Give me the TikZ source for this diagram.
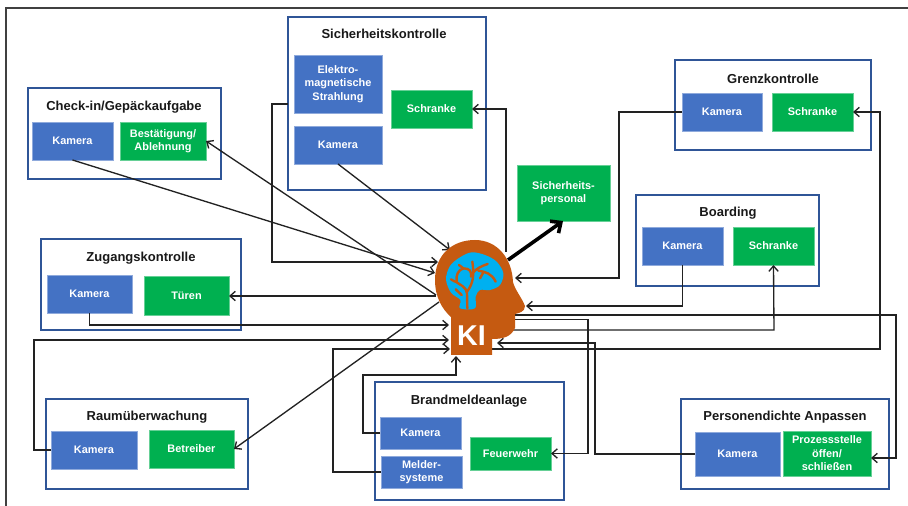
\documentclass[tikz,border=0pt]{standalone}
\usepackage{fontspec}
\setmainfont{Liberation Sans}
\usetikzlibrary{arrows.meta,calc}
\definecolor{cblue}{HTML}{4472C4}
\definecolor{cgreen}{HTML}{00B050}
\definecolor{cframe}{HTML}{2F5597}
\definecolor{corange}{HTML}{C55A11}
\definecolor{ccyan}{HTML}{00B0F0}
\definecolor{cline}{HTML}{222222}
\tikzset{
  boxbase/.style={rectangle,inner sep=0pt,outer sep=0pt,align=center,text=white,
     font=\bfseries\fontsize{8.2}{10.1}\selectfont},
  bluebox/.style={boxbase,fill=cblue,draw=cblue!60!white,line width=.3pt},
  greenbox/.style={boxbase,fill=cgreen,draw=cgreen!60!white,line width=.3pt},
  groupbox/.style={rectangle,inner sep=0pt,outer sep=0pt,fill=white,draw=cframe,line width=1.9pt},
  grouptitle/.style={inner sep=0pt,text=black!90,font=\bfseries\fontsize{9.75}{11}\selectfont},
  conn/.style={draw=cline,line width=1pt},
  arr/.style={conn,-{Straight Barb[length=4pt,width=7pt,line width=1pt]}},
  bigarr/.style={draw=black,line width=2.7pt,-{Straight Barb[length=6pt,width=11pt]}}
}
\newcommand{\bx}[7]{\node[#1,minimum width={(#5-#3)*0.75pt},minimum height={(#6-#4)*0.75pt}] (#2) at ({(#3+#5)/2},{(#4+#6)/2}) {#7};}
\begin{document}
\begin{tikzpicture}[x=.75pt,y=-.75pt]
\useasboundingbox (0,0) rectangle (908,506);
\coordinate (fa) at (6,506); \coordinate (fb) at (6,8); \coordinate (fc) at (908,8);
\draw[black!75,line width=1pt] (fa) -- (fb) -- (fc);
% group frames
\bx{groupbox}{gsich}{288}{17}{486}{190}{}
\bx{groupbox}{ggrenz}{675}{60}{871}{150}{}
\bx{groupbox}{gcheck}{28}{88}{221}{179}{}
\bx{groupbox}{gzug}{41}{239}{241}{330}{}
\bx{groupbox}{graum}{46}{399}{248}{489}{}
\bx{groupbox}{gbrand}{375}{382}{564}{500}{}
\bx{groupbox}{gpers}{681}{399}{889}{489}{}
\bx{groupbox}{gboard}{636}{195}{819}{286}{}
% titles
\node[grouptitle] (tsich) at (384,34) {Sicherheitskontrolle};
\node[grouptitle] (tgrenz) at (773,79) {Grenzkontrolle};
\node[grouptitle] (tcheck) at (124,107) {Check-in/Gepäckaufgabe};
\node[grouptitle] (tzug) at (141,258) {Zugangskontrolle};
\node[grouptitle] (traum) at (147,417) {Raumüberwachung};
\node[grouptitle] (tbrand) at (469,401) {Brandmeldeanlage};
\node[grouptitle] (tpers) at (785,417) {Personendichte Anpassen};
\node[grouptitle] (tboard) at (728,213) {Boarding};
% inner boxes
\bx{bluebox}{elek}{294}{55}{382}{113}{Elektro-\\magnetische\\Strahlung}
\bx{bluebox}{skam}{294}{126}{382}{164}{Kamera}
\bx{greenbox}{ssch}{391}{90}{472}{128}{Schranke}
\bx{bluebox}{gkam}{682}{93}{762}{131}{Kamera}
\bx{greenbox}{gsch}{772}{93}{853}{131}{Schranke}
\bx{bluebox}{ckam}{32}{122}{113}{160}{Kamera}
\bx{greenbox}{cbest}{120}{122}{206}{160}{Bestätigung/\\Ablehnung}
\bx{bluebox}{zkam}{47}{275}{132}{313}{Kamera}
\bx{greenbox}{ztuer}{144}{276}{229}{315}{Türen}
\bx{bluebox}{rkam}{51}{431}{137}{469}{Kamera}
\bx{greenbox}{rbet}{149}{430}{234}{468}{Betreiber}
\bx{bluebox}{bkam}{380}{417}{461}{449}{Kamera}
\bx{bluebox}{bmel}{381}{456}{462}{488}{Melder-\\systeme}
\bx{greenbox}{bfeu}{470}{437}{551}{470}{Feuerwehr}
\bx{bluebox}{pkam}{695}{432}{780}{476}{Kamera}
\bx{greenbox}{pproz}{783}{431}{871}{476}{Prozessstelle\\öffen/\\schließen}
\bx{bluebox}{bokam}{642}{227}{723}{265}{Kamera}
\bx{greenbox}{bosch}{733}{227}{814}{265}{Schranke}
\bx{greenbox}{pers}{517}{165}{610}{221}{Sicherheits-\\personal}
% ports
\coordinate (elekout) at (288,104);
\coordinate (h1) at (450,250);
\coordinate (h2) at (438,262);
\coordinate (h3) at (435,273);
\coordinate (h4) at (436,295);
\coordinate (h5) at (436,296);
\coordinate (h6) at (439,302);
\coordinate (h7) at (449,325);
\coordinate (h8) at (449,340);
\coordinate (h9) at (450,349);
\coordinate (h10) at (456,356);
\coordinate (h11) at (506,252);
\coordinate (h12) at (508,260);
\coordinate (h13) at (515,278);
\coordinate (h14) at (526,306);
\coordinate (h15) at (513,315);
\coordinate (h16) at (513,319.5);
\coordinate (h17) at (511,330);
\coordinate (h18) at (497,343);
\coordinate (h19) at (492,349);
\coordinate (persin) at (563,221);
% connectors
\draw[arr] (skam.south) -- (h1);
\draw[arr] (elekout) -- (272,104) -- (272,262) -- (h2);
\draw[arr] (ckam.south) -- (h3);
\draw[arr] (h4) -- (cbest.east);
\draw[arr] (h5) -- (ztuer.east|-h5);
\draw[arr] (h6) -- (rbet.east);
\draw[arr] (zkam.south) -- (89.5,325) -- (h7);
\draw[arr] (rkam.west) -- (34,450) -- (34,340) -- (h8);
\draw[arr] (bmel.west) -- (333,472) -- (333,349) -- (h9);
\draw[arr] (bkam.west) -- (363,433) -- (363,375) -- (456,375) -- (h10);
\draw[arr] (h11) -- (506,109) -- (ssch.east);
\draw[bigarr] (h12) -- (persin);
\draw[arr] (gkam.west) -- (619,112) -- (619,278) -- (h13);
\draw[arr] (bokam.south) -- (682.5,306) -- (h14);
\draw[arr] (h15) -- (896,315) -- (896,458) -- (pproz.east|-0,458);
\draw[arr] (h16) -- (588,319.5) -- (588,453.5) -- (bfeu.east);
\draw[arr] (h17) -- (774,330) -- (bosch.south);
\draw[arr] (pkam.west) -- (595,454) -- (595,343) -- (h18);
\draw[arr] (h19) -- (880,349) -- (880,112) -- (gsch.east);
% head
\fill[corange] (451,355) -- (492,355) -- (492,339)
  .. controls (503,339) and (511,337) .. (515,328)
  -- (515,314)
  .. controls (519,313) and (525,312) .. (525,306)
  .. controls (522,298) and (515,290) .. (513,282)
  .. controls (512,258) and (497,240) .. (475,240)
  .. controls (452,240) and (435,255) .. (435,280)
  .. controls (435,297) and (442,309) .. (451,317)
  -- cycle;
% brain
\fill[ccyan,x=.25pt,y=-.25pt,shift={(326.25pt,-180pt)}]
  plot[smooth cycle,tension=.55] coordinates {(75,205) (76,180) (48,158) (33,118) (45,78) (75,52) (110,37) (150,45) (185,65) (205,100) (195,135) (165,150) (135,150) (122,170) (120,205)};
\begin{scope}[x=.25pt,y=-.25pt,shift={(326.25pt,-180pt)},draw=corange,line width=1.8pt,line cap=round]
  \draw (97,205) -- (96,160) .. controls (94,140) and (75,135) .. (62,125) (60,125) -- (48,118);
  \draw (80,165) -- (62,148);
  \draw (96,155) .. controls (115,130) and (118,105) .. (112,65);
  \draw (112,100) .. controls (125,85) and (140,78) .. (158,72);
  \draw (130,92) .. controls (150,95) and (170,100) .. (182,125);
  \draw (65,125) .. controls (62,105) and (70,90) .. (85,85);
  \draw (85,85) .. controls (105,85) and (110,95) .. (108,110);
  \draw (145,97) -- (135,115);
  \draw (72,75) -- (85,85);
\end{scope}
\node[inner sep=0pt,text=white,font=\bfseries\fontsize{21.5}{24}\selectfont] (ki) at (471.5,335.5) {KI};
\end{tikzpicture}
\end{document}
